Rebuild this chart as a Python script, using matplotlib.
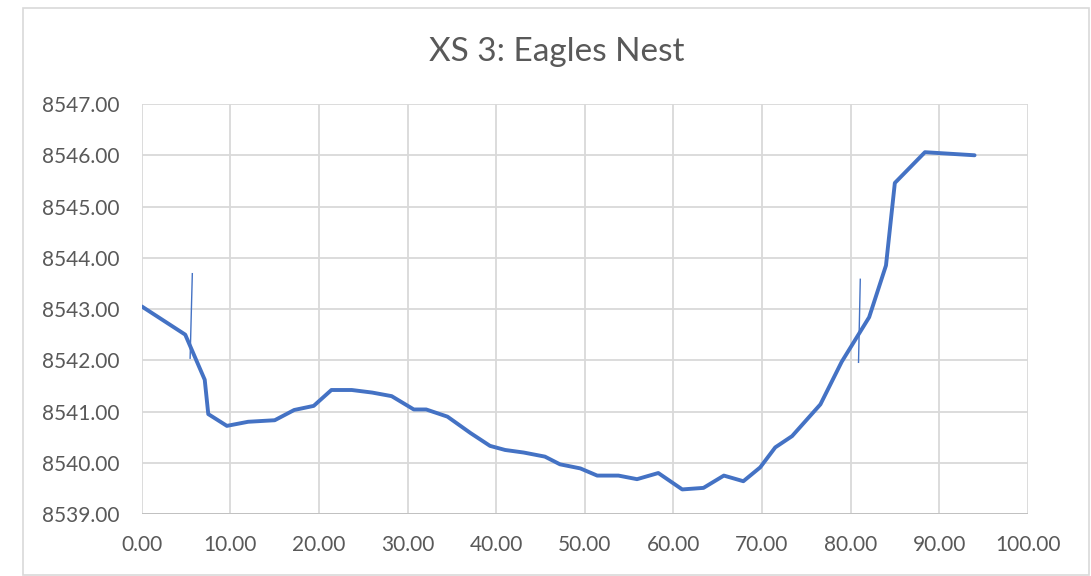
import matplotlib.pyplot as plt
from matplotlib.patches import Rectangle

# Surveyed cross-section: station (ft) vs. ground elevation (ft)
station = [0.0, 4.9, 7.1, 7.5, 9.6, 12.0, 15.0, 17.2, 19.4, 21.4, 23.7, 26.0,
           28.2, 30.7, 32.1, 34.5, 37.1, 39.3, 41.0, 43.1, 45.5, 47.2, 49.5,
           51.4, 53.8, 55.9, 58.3, 61.0, 63.4, 65.7, 67.9, 69.8, 71.5, 73.4,
           76.6, 79.0, 82.1, 84.0, 85.0, 88.4, 94.0]
elevation = [8543.05, 8542.50, 8541.62, 8540.95, 8540.72, 8540.80, 8540.83,
             8541.03, 8541.11, 8541.42, 8541.42, 8541.37, 8541.30, 8541.04,
             8541.04, 8540.90, 8540.58, 8540.33, 8540.25, 8540.20, 8540.12,
             8539.97, 8539.89, 8539.75, 8539.75, 8539.68, 8539.80, 8539.48,
             8539.51, 8539.75, 8539.64, 8539.91, 8540.30, 8540.52, 8541.14,
             8541.97, 8542.84, 8543.85, 8545.46, 8546.06, 8546.00]

# Bank markers (thin vertical strokes)
left_bank_x = [5.7, 5.45]
left_bank_y = [8543.69, 8542.04]
right_bank_x = [81.1, 80.9]
right_bank_y = [8543.58, 8541.96]

title = "XS 3: Eagles Nest"
x_ticks = list(range(0, 101, 10))
y_ticks = list(range(8539, 8548))

BLUE = "#4472C4"
GREY_TEXT = "#595959"
GRID = "#D9D9D9"

plt.rcParams["font.family"] = ["Lato", "DejaVu Sans"]

fig = plt.figure(figsize=(10.91, 5.76), dpi=100)
ax = fig.add_axes([0.130, 0.1076, 0.812, 0.7118])

ax.plot(station, elevation, color=BLUE, linewidth=2.8, solid_joinstyle="round",
        solid_capstyle="round", zorder=3)
ax.plot(left_bank_x, left_bank_y, color=BLUE, linewidth=1.0, zorder=3)
ax.plot(right_bank_x, right_bank_y, color=BLUE, linewidth=1.0, zorder=3)

ax.set_xlim(0, 100)
ax.set_ylim(8539, 8547)
ax.set_xticks(x_ticks)
ax.set_yticks(y_ticks)
ax.set_xticklabels([f"{v:.2f}" for v in x_ticks])
ax.set_yticklabels([f"{v:.2f}" for v in y_ticks])
ax.tick_params(length=0, labelsize=15, colors=GREY_TEXT)
ax.tick_params(axis="y", pad=16)
ax.tick_params(axis="x", pad=15)
ax.grid(True, color=GRID, linewidth=1.3)
ax.set_axisbelow(True)
for name, spine in ax.spines.items():
    spine.set_visible(False)
ax.axhline(8539, color="#BFBFBF", linewidth=1.3, zorder=2)

fig.text(0.510, 0.894, title, ha="center", va="baseline", fontsize=24, color=GREY_TEXT)

# Chart border
fig.patches.append(Rectangle((0.021, 0.0017), 0.977, 0.984, transform=fig.transFigure,
                             fill=False, edgecolor="#D9D9D9", linewidth=1.2))

fig.savefig("out.png", dpi=100)
